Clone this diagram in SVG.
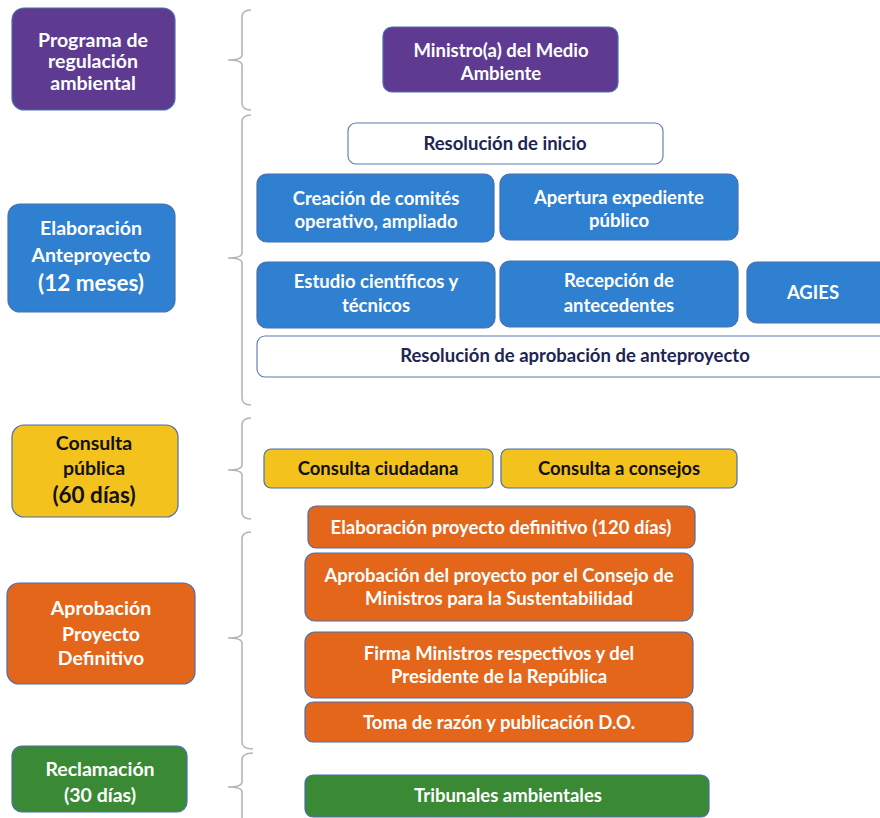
<svg xmlns="http://www.w3.org/2000/svg" width="880" height="818" viewBox="0 0 880 818">
<style>
text{font-family:Lato,"Open Sans","Liberation Sans",sans-serif;font-weight:700;text-anchor:middle}
.b{stroke:#4a6fae;stroke-width:1.2}
.pu{fill:#5e3b91}
.bl{fill:#2f80d0}
.ye{fill:#f4c21c}
.or{fill:#e4661b}
.gr{fill:#3a8a35}
.wh{fill:#ffffff;stroke:#5a78b0;stroke-width:1.1}
.tw{fill:#ffffff;font-size:18.5px}
.tn{fill:#1d2553;font-size:18.5px}
.tk{fill:#111111;font-size:18.5px}
.L{font-size:19.5px}
.LL{font-size:22.5px}
.br{fill:none;stroke:#b4b6be;stroke-width:1.6}
</style>
<rect width="880" height="818" fill="#ffffff"/>
<g id="connectors">
<path class="br" d="M251,10 Q242,10 242,17 L242,55 Q242,60 228,60 Q242,60 242,65 L242,103 Q242,110 251,110"/>
<path class="br" d="M251,115 Q242,115 242,122 L242,253 Q242,258 228,258 Q242,258 242,263 L242,398 Q242,405 251,405"/>
<path class="br" d="M251,418 Q242,418 242,425 L242,465 Q242,470 228,470 Q242,470 242,475 L242,512 Q242,519 251,519"/>
<path class="br" d="M251,532 Q242,532 242,539 L242,633 Q242,638 228,638 Q242,638 242,643 L242,742 Q242,749 253,749"/>
<path class="br" d="M253,753 Q242,753 242,760 L242,782 Q242,787 228,787 Q242,787 242,792 L242,818"/>
</g>
<g id="n-programa"><rect class="pu b" x="12" y="8" width="163" height="102" rx="12"/>
<text class="tw L" x="93" y="47">Programa de</text><text class="tw L" x="93" y="68">regulación</text><text class="tw L" x="93" y="90">ambiental</text></g>
<g id="n-elaboracion"><rect class="bl b" x="8" y="204" width="167" height="108" rx="12"/>
<text class="tw L" x="91" y="235">Elaboración</text><text class="tw L" x="91" y="262">Anteproyecto</text><text class="tw LL" x="91" y="291">(12 meses)</text></g>
<g id="n-consulta"><rect class="ye b" x="12" y="425" width="166" height="92" rx="12"/>
<text class="tk L" x="94" y="450">Consulta</text><text class="tk L" x="94" y="475">pública</text><text class="tk LL" x="94" y="503">(60 días)</text></g>
<g id="n-aprobacion"><rect class="or b" x="7" y="583" width="188" height="101" rx="12"/>
<text class="tw L" x="101" y="615">Aprobación</text><text class="tw L" x="101" y="641">Proyecto</text><text class="tw L" x="101" y="665">Definitivo</text></g>
<g id="n-reclamacion"><rect class="gr b" x="12" y="746" width="175" height="66" rx="10"/>
<text class="tw L" x="100" y="776">Reclamación</text><text class="tw L" x="100" y="802">(30 días)</text></g>

<g id="n-ministro"><rect class="pu b" x="383" y="27" width="235" height="65" rx="9"/>
<text class="tw" x="501" y="57">Ministro(a) del Medio</text><text class="tw" x="501" y="80">Ambiente</text></g>
<g id="n-resinicio"><rect class="wh" x="348" y="123" width="315" height="41" rx="8"/>
<text class="tn" x="505" y="150">Resolución de inicio</text></g>
<g id="n-comites"><rect class="bl b" x="257" y="174" width="237" height="68" rx="10"/>
<text class="tw" x="376" y="205">Creación de comités</text><text class="tw" x="376" y="228">operativo, ampliado</text></g>
<g id="n-apertura"><rect class="bl b" x="500" y="174" width="238" height="66" rx="10"/>
<text class="tw" x="619" y="204">Apertura expediente</text><text class="tw" x="619" y="227">público</text></g>
<g id="n-estudio"><rect class="bl b" x="257" y="262" width="238" height="66" rx="10"/>
<text class="tw" x="376" y="288">Estudio científicos y</text><text class="tw" x="376" y="312">técnicos</text></g>
<g id="n-recepcion"><rect class="bl b" x="500" y="261" width="238" height="66" rx="10"/>
<text class="tw" x="619" y="287">Recepción de</text><text class="tw" x="619" y="312">antecedentes</text></g>
<g id="n-agies"><rect class="bl b" x="747" y="262" width="150" height="61" rx="10"/>
<text class="tw" x="813" y="299">AGIES</text></g>
<g id="n-resaprob"><rect class="wh" x="257" y="336" width="640" height="41" rx="8"/>
<text class="tn" x="575" y="362">Resolución de aprobación de anteproyecto</text></g>
<g id="n-ciudadana"><rect class="ye b" x="264" y="449" width="229" height="39" rx="7"/>
<text class="tk" x="378" y="475">Consulta ciudadana</text></g>
<g id="n-consejos"><rect class="ye b" x="501" y="449" width="236" height="39" rx="7"/>
<text class="tk" x="619" y="475">Consulta a consejos</text></g>
<g id="n-elabdef"><rect class="or b" x="308" y="506" width="387" height="42" rx="8"/>
<text class="tw" x="501" y="534">Elaboración proyecto definitivo (120 días)</text></g>
<g id="n-aprobproy"><rect class="or b" x="305" y="553" width="388" height="68" rx="10"/>
<text class="tw" x="499" y="582">Aprobación del proyecto por el Consejo de</text><text class="tw" x="499" y="605">Ministros para la Sustentabilidad</text></g>
<g id="n-firma"><rect class="or b" x="305" y="632" width="388" height="66" rx="10"/>
<text class="tw" x="499" y="660">Firma Ministros respectivos y del</text><text class="tw" x="499" y="683">Presidente de la República</text></g>
<g id="n-toma"><rect class="or b" x="305" y="702" width="388" height="40" rx="8"/>
<text class="tw" x="499" y="729">Toma de razón y publicación D.O.</text></g>
<g id="n-tribunales"><rect class="gr b" x="305" y="775" width="404" height="42" rx="8"/>
<text class="tw" x="508" y="802">Tribunales ambientales</text></g>
</svg>
